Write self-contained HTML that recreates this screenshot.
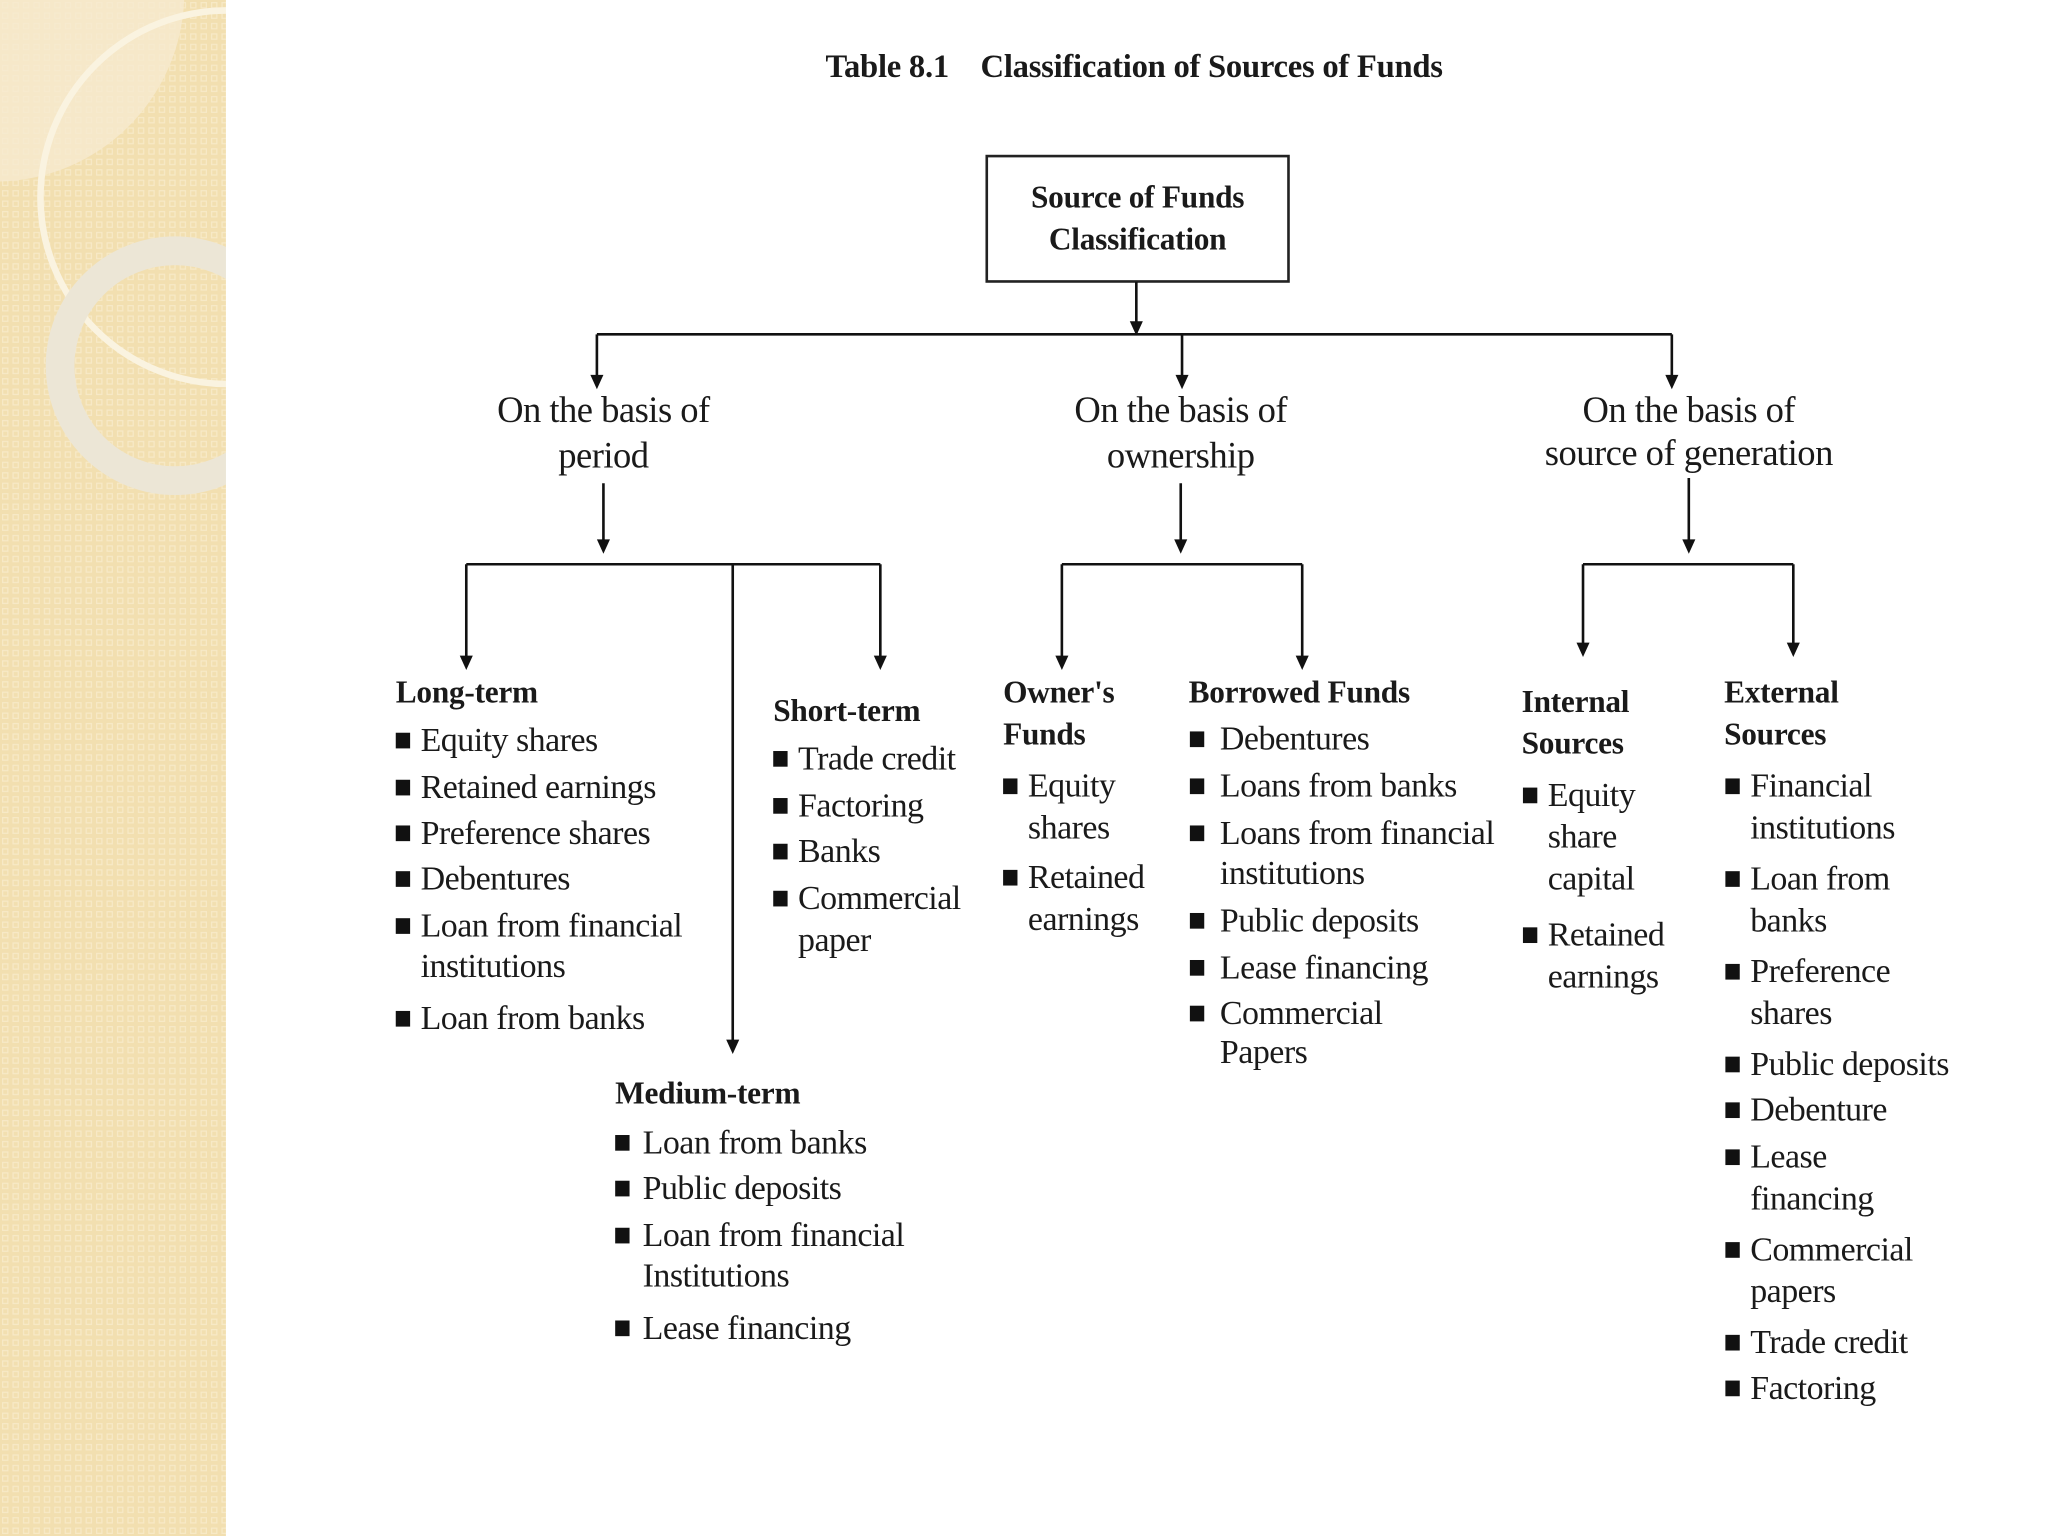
<!DOCTYPE html>
<html><head><meta charset="utf-8"><style>
html,body{margin:0;padding:0;background:#fff;}
#s{position:absolute;left:0;top:0;width:1568px;height:1176px;transform:scale(1.30612);transform-origin:0 0;overflow:hidden;background:#fff;font-family:"Liberation Serif",serif;color:#1a1a1a;}
.t{position:absolute;white-space:nowrap;font-size:26px;line-height:32px;letter-spacing:-0.4px;}
.h{font-weight:bold;font-size:24px;letter-spacing:-0.2px;}
.b{position:absolute;width:11px;height:12px;background:#111;}
</style></head><body><div id="s">
<svg width="1568" height="1176" style="position:absolute;left:0;top:0">
<defs><pattern id="p" width="8" height="8" patternUnits="userSpaceOnUse"><rect width="8" height="8" fill="#f2dfb0"/><rect x="2" y="2" width="4" height="4" fill="none" stroke="#f7e9c6" stroke-width="1"/></pattern>
<marker id="a" markerWidth="10" markerHeight="12" refX="5" refY="10" orient="auto" markerUnits="userSpaceOnUse"><path d="M0,0 L10,0 L5,11 z" fill="#111" transform="rotate(-90 5 5)"/></marker></defs>
<rect x="0" y="0" width="173" height="1176" fill="url(#p)"/>
<path d="M0,0 H141 A145,145 0 0 1 0,139 Z" fill="#f6ead0" opacity="0.8"/>
<circle cx="174" cy="151" r="143" fill="none" stroke="#faf3e0" stroke-width="5"/>
<circle cx="134" cy="280" r="88" fill="none" stroke="#ece6d6" stroke-width="22"/>
<rect x="173" y="0" width="1395" height="1176" fill="#fff"/>
<rect x="755.5" y="119.5" width="231" height="96" fill="none" stroke="#222" stroke-width="2"/>
<g stroke="#111" stroke-width="2" fill="none">
<path d="M870,216 V256 M457,256 H1280 M457,256 V292 M905,256 V292 M1280,256 V292"/>
<path d="M462,370 V420 M904,370 V420 M1293,366 V420"/>
<path d="M357,432 H674 M357,432 V508 M674,432 V508 M561,432 V802"/>
<path d="M813,432 H997 M813,432 V508 M997,432 V508"/>
<path d="M1212,432 H1373 M1212,432 V498 M1373,432 V498"/>
</g>
<g fill="#111">
<path d="M865,246 h10 l-5,11z"/><path d="M452,287 h10 l-5,11z"/><path d="M900,287 h10 l-5,11z"/><path d="M1275,287 h10 l-5,11z"/>
<path d="M457,413 h10 l-5,11z"/><path d="M899,413 h10 l-5,11z"/><path d="M1288,413 h10 l-5,11z"/>
<path d="M352,502 h10 l-5,11z"/><path d="M669,502 h10 l-5,11z"/><path d="M556,796 h10 l-5,11z"/>
<path d="M808,502 h10 l-5,11z"/><path d="M992,502 h10 l-5,11z"/>
<path d="M1207,492 h10 l-5,11z"/><path d="M1368,492 h10 l-5,11z"/>
</g>
</svg>
<div class="t h" style="left:632px;top:36px;font-size:25px">Table 8.1&nbsp;&nbsp;&nbsp;&nbsp;Classification of Sources of Funds</div>
<div class="t h" style="left:755px;width:232px;text-align:center;top:136px">Source of Funds</div>
<div class="t h" style="left:755px;width:232px;text-align:center;top:168px">Classification</div>
<div class="t" style="left:312px;width:300px;text-align:center;top:299px;font-size:28px">On the basis of</div>
<div class="t" style="left:312px;width:300px;text-align:center;top:334px;font-size:28px">period</div>
<div class="t" style="left:754px;width:300px;text-align:center;top:299px;font-size:28px">On the basis of</div>
<div class="t" style="left:754px;width:300px;text-align:center;top:334px;font-size:28px">ownership</div>
<div class="t" style="left:1143px;width:300px;text-align:center;top:299px;font-size:28px">On the basis of</div>
<div class="t" style="left:1143px;width:300px;text-align:center;top:332px;font-size:28px">source of generation</div>

<div class="t h" style="left:303px;top:515px">Long-term</div>
<div class="b" style="left:303px;top:561px"></div><div class="t" style="left:322px;top:551px">Equity shares</div>
<div class="b" style="left:303px;top:597px"></div><div class="t" style="left:322px;top:587px">Retained earnings</div>
<div class="b" style="left:303px;top:632px"></div><div class="t" style="left:322px;top:622px">Preference shares</div>
<div class="b" style="left:303px;top:667px"></div><div class="t" style="left:322px;top:657px">Debentures</div>
<div class="b" style="left:303px;top:703px"></div><div class="t" style="left:322px;top:693px">Loan from financial</div>
<div class="t" style="left:322px;top:724px">institutions</div>
<div class="b" style="left:303px;top:774px"></div><div class="t" style="left:322px;top:764px">Loan from banks</div>

<div class="t h" style="left:592px;top:529px">Short-term</div>
<div class="b" style="left:592px;top:575px"></div><div class="t" style="left:611px;top:565px">Trade credit</div>
<div class="b" style="left:592px;top:611px"></div><div class="t" style="left:611px;top:601px">Factoring</div>
<div class="b" style="left:592px;top:646px"></div><div class="t" style="left:611px;top:636px">Banks</div>
<div class="b" style="left:592px;top:682px"></div><div class="t" style="left:611px;top:672px">Commercial</div>
<div class="t" style="left:611px;top:704px">paper</div>

<div class="t h" style="left:471px;top:822px">Medium-term</div>
<div class="b" style="left:471px;top:869px"></div><div class="t" style="left:492px;top:859px">Loan from banks</div>
<div class="b" style="left:471px;top:904px"></div><div class="t" style="left:492px;top:894px">Public deposits</div>
<div class="b" style="left:471px;top:940px"></div><div class="t" style="left:492px;top:930px">Loan from financial</div>
<div class="t" style="left:492px;top:961px">Institutions</div>
<div class="b" style="left:471px;top:1011px"></div><div class="t" style="left:492px;top:1001px">Lease financing</div>

<div class="t h" style="left:768px;top:515px">Owner's</div>
<div class="t h" style="left:768px;top:547px">Funds</div>
<div class="b" style="left:768px;top:596px"></div><div class="t" style="left:787px;top:586px">Equity</div>
<div class="t" style="left:787px;top:618px">shares</div>
<div class="b" style="left:768px;top:666px"></div><div class="t" style="left:787px;top:656px">Retained</div>
<div class="t" style="left:787px;top:688px">earnings</div>

<div class="t h" style="left:910px;top:515px">Borrowed Funds</div>
<div class="b" style="left:911px;top:560px"></div><div class="t" style="left:934px;top:550px">Debentures</div>
<div class="b" style="left:911px;top:596px"></div><div class="t" style="left:934px;top:586px">Loans from banks</div>
<div class="b" style="left:911px;top:632px"></div><div class="t" style="left:934px;top:622px">Loans from financial</div>
<div class="t" style="left:934px;top:653px">institutions</div>
<div class="b" style="left:911px;top:699px"></div><div class="t" style="left:934px;top:689px">Public deposits</div>
<div class="b" style="left:911px;top:735px"></div><div class="t" style="left:934px;top:725px">Lease financing</div>
<div class="b" style="left:911px;top:770px"></div><div class="t" style="left:934px;top:760px">Commercial</div>
<div class="t" style="left:934px;top:790px">Papers</div>

<div class="t h" style="left:1165px;top:522px">Internal</div>
<div class="t h" style="left:1165px;top:554px">Sources</div>
<div class="b" style="left:1166px;top:603px"></div><div class="t" style="left:1185px;top:593px">Equity</div>
<div class="t" style="left:1185px;top:625px">share</div>
<div class="t" style="left:1185px;top:657px">capital</div>
<div class="b" style="left:1166px;top:710px"></div><div class="t" style="left:1185px;top:700px">Retained</div>
<div class="t" style="left:1185px;top:732px">earnings</div>

<div class="t h" style="left:1320px;top:515px">External</div>
<div class="t h" style="left:1320px;top:547px">Sources</div>
<div class="b" style="left:1321px;top:596px"></div><div class="t" style="left:1340px;top:586px">Financial</div>
<div class="t" style="left:1340px;top:618px">institutions</div>
<div class="b" style="left:1321px;top:667px"></div><div class="t" style="left:1340px;top:657px">Loan from</div>
<div class="t" style="left:1340px;top:689px">banks</div>
<div class="b" style="left:1321px;top:738px"></div><div class="t" style="left:1340px;top:728px">Preference</div>
<div class="t" style="left:1340px;top:760px">shares</div>
<div class="b" style="left:1321px;top:809px"></div><div class="t" style="left:1340px;top:799px">Public deposits</div>
<div class="b" style="left:1321px;top:844px"></div><div class="t" style="left:1340px;top:834px">Debenture</div>
<div class="b" style="left:1321px;top:880px"></div><div class="t" style="left:1340px;top:870px">Lease</div>
<div class="t" style="left:1340px;top:902px">financing</div>
<div class="b" style="left:1321px;top:951px"></div><div class="t" style="left:1340px;top:941px">Commercial</div>
<div class="t" style="left:1340px;top:973px">papers</div>
<div class="b" style="left:1321px;top:1022px"></div><div class="t" style="left:1340px;top:1012px">Trade credit</div>
<div class="b" style="left:1321px;top:1057px"></div><div class="t" style="left:1340px;top:1047px">Factoring</div>
</div></body></html>
